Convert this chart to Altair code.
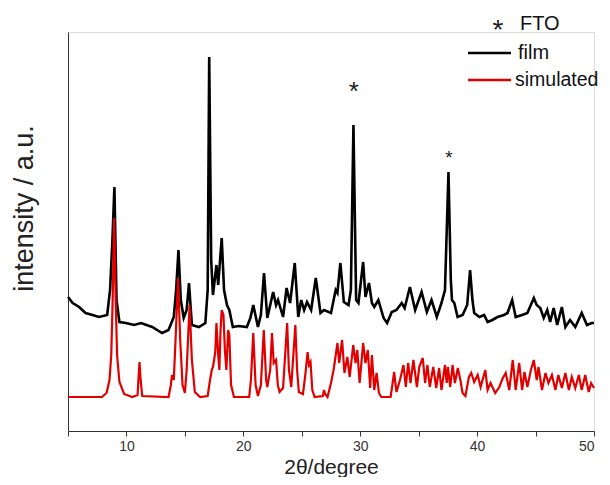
import altair as alt
import pandas as pd

# ---- data (2theta in degrees, intensity in a.u.) ----
film_2theta = [5.0, 5.4, 5.95, 6.5, 7.1, 7.65, 8.35, 8.6, 8.8, 8.97, 9.15, 9.4, 9.95, 10.65, 11.25,
               12.2, 13.05, 13.6, 14.05, 14.25, 14.45, 14.65, 14.9, 15.15, 15.35, 15.6, 16.2, 16.75,
               16.95, 17.08, 17.25, 17.4, 17.7, 17.85, 18.15, 18.35, 18.6, 18.8, 19.1, 19.6, 20.3,
               20.6, 20.85, 21.25, 21.5, 21.77, 22.05, 22.55, 22.8, 22.97, 23.4, 23.7, 24.0, 24.4,
               24.7, 24.95, 25.2, 25.45, 25.8, 26.2, 26.6, 26.9, 27.5, 27.9, 28.05, 28.3, 28.6, 29.0,
               29.2, 29.42, 29.65, 29.85, 30.25, 30.45, 30.75, 31.0, 31.2, 31.55, 32.0, 32.3, 32.7,
               33.1, 33.55, 33.8, 34.25, 34.7, 35.25, 35.7, 36.1, 36.55, 36.95, 37.25, 37.55, 37.75,
               37.85, 38.05, 38.33, 38.76, 39.15, 39.4, 39.6, 39.75, 40.2, 40.6, 40.9, 41.3, 41.75,
               42.3, 42.6, 43.0, 43.3, 43.85, 44.3, 44.85, 45.1, 45.4, 45.7, 46.0, 46.25, 46.55,
               46.85, 47.25, 47.55, 47.95, 48.4, 48.95, 49.4, 49.8, 50.0]
film_intensity = [134, 128, 124, 118, 116, 114, 116, 141, 191, 244, 131, 109, 108, 106, 108,
                  104, 98, 101, 114, 141, 181, 131, 113, 121, 148, 106, 104, 108,
                  141, 374, 171, 136, 166, 146, 193, 141, 126, 121, 104, 105, 104,
                  113, 126, 104, 116, 158, 113, 139, 126, 131, 114, 143, 128, 168,
                  114, 131, 121, 129, 121, 153, 118, 121, 118, 141, 138, 168, 129, 126,
                  141, 306, 131, 128, 169, 134, 148, 128, 124, 131, 113, 108, 119,
                  121, 128, 123, 144, 121, 139, 119, 131, 114, 128, 141, 259, 151,
                  131, 128, 114, 116, 126, 161, 131, 118, 114, 116, 109, 111, 114,
                  116, 118, 131, 114, 116, 118, 133, 126, 123, 113, 121, 109, 123,
                  106, 124, 104, 111, 104, 118, 106, 108, 108]

sim_2theta = [5.0, 7.9, 8.3, 8.55, 8.7, 8.82, 8.95, 9.08, 9.2, 9.4, 9.8, 10.5, 10.95, 11.05, 11.12,
              11.2, 11.35, 13.6, 13.8, 13.9, 14.05, 14.2, 14.42, 14.6, 14.8, 15.0, 15.15, 15.4, 15.6,
              15.85, 16.3, 16.95, 17.15, 17.3, 17.4, 17.5, 17.6, 17.7, 17.85, 17.95, 18.05, 18.15,
              18.3, 18.42, 18.55, 18.7, 18.8, 18.95, 19.2, 20.5, 20.65, 20.85, 21.05, 21.25, 21.5,
              21.75, 21.95, 22.05, 22.3, 22.45, 22.6, 22.8, 22.95, 23.1, 23.4, 23.55, 23.75, 23.9,
              24.1, 24.25, 24.45, 24.6, 24.75, 25.1, 25.3, 25.5, 25.62, 25.75, 25.9, 26.1, 26.8,
              26.9, 27.0, 27.2, 27.5, 27.75, 28.05, 28.2, 28.45, 28.65, 28.9, 29.1, 29.4, 29.6,
              29.75, 29.95, 30.25, 30.45, 30.65, 30.85, 31.0, 31.2, 31.4, 31.6, 31.8, 32.6, 32.75,
              32.9, 33.1, 33.4, 33.7, 33.9, 34.1, 34.3, 34.55, 34.85, 35.05, 35.35, 35.55, 35.75,
              35.95, 36.25, 36.5, 36.75, 36.95, 37.25, 37.4, 37.5, 37.7, 37.9, 38.1, 38.35, 38.6,
              38.75, 39.0, 39.3, 39.5, 39.75, 40.05, 40.3, 40.7, 40.9, 41.15, 41.55, 41.9, 42.2,
              42.45, 42.75, 43.05, 43.3, 43.6, 43.85, 44.05, 44.3, 44.6, 44.85, 45.1, 45.25, 45.55,
              45.85, 46.1, 46.4, 46.7, 46.95, 47.25, 47.55, 47.85, 48.1, 48.4, 48.7, 48.95, 49.25,
              49.55, 49.75, 50.0]
sim_intensity = [34, 34, 38, 51, 76, 131, 213, 131, 76, 49, 37, 34, 36, 56, 69,
                 53, 35, 34, 46, 56, 51, 91, 153, 91, 46, 38, 61, 126, 71,
                 39, 34, 35, 51, 61, 64, 71, 79, 108, 76, 61, 101, 121,
                 116, 81, 61, 101, 96, 46, 34, 34, 51, 98, 46, 35, 46,
                 101, 51, 44, 61, 98, 68, 71, 46, 39, 43, 71, 108, 61,
                 44, 71, 106, 61, 39, 37, 56, 79, 66, 69, 41, 34, 35,
                 41, 37, 34, 48, 63, 88, 68, 91, 58, 74, 54, 86, 68,
                 81, 48, 88, 68, 81, 43, 76, 41, 58, 38, 34, 34, 46,
                 59, 39, 51, 66, 44, 68, 48, 71, 44, 64, 73, 48, 66,
                 44, 64, 43, 63, 41, 66, 48, 64, 44, 66, 48, 63, 49,
                 38, 35, 54, 58, 49, 56, 44, 61, 41, 48, 38, 44, 53,
                 58, 41, 71, 41, 68, 41, 59, 44, 61, 71, 51, 64, 41,
                 58, 48, 56, 41, 56, 43, 58, 41, 54, 43, 56, 41, 56,
                 39, 48, 43]

fto_2theta = [29.45, 37.6]
fto_marker_intensity = [346, 279]
x_tick_values = [5, 10, 15, 20, 25, 30, 35, 40, 45, 50]
legend_labels = ["FTO", "film", "simulated"]

FONT = "Arial"

film = pd.DataFrame({"two_theta": film_2theta, "intensity": film_intensity})
sim = pd.DataFrame({"two_theta": sim_2theta, "intensity": sim_intensity})
fto = pd.DataFrame({"two_theta": fto_2theta, "intensity": fto_marker_intensity, "label": ["*", "*"]})
one = pd.DataFrame({"k": [0]})

x_enc = alt.X(
    "two_theta:Q",
    scale=alt.Scale(domain=[5, 50], nice=False, zero=False),
    axis=alt.Axis(
        values=x_tick_values,
        labelExpr="datum.value % 10 == 0 ? datum.label : ''",
        title="2θ/degree",
        grid=False,
        tickSize=5,
        labelFontSize=14,
        labelPadding=3,
        labelFont=FONT,
        labelColor="#333333",
        titleFont=FONT,
        titleFontSize=21,
        titleFontWeight="normal",
        titleColor="#222222",
        titleBaseline="middle",
        titleY=36,
        domainColor="#333333",
        tickColor="#333333",
    ),
)
y_enc = alt.Y(
    "intensity:Q",
    scale=alt.Scale(domain=[0, 399], nice=False, zero=False),
    axis=alt.Axis(
        ticks=False,
        labels=False,
        grid=False,
        title="intensity / a.u.",
        titleFont=FONT,
        titleFontSize=27,
        titleFontWeight="normal",
        titleColor="#222222",
        titleAngle=-90,
        titleAlign="center",
        titleBaseline="middle",
        titleX=-44,
        titleY=176,
        domainColor="#333333",
    ),
)

film_line = alt.Chart(film).mark_line(color="#000000", strokeWidth=2.6).encode(x=x_enc, y=y_enc)
sim_line = alt.Chart(sim).mark_line(color="#e00000", strokeWidth=2.2).encode(x=x_enc, y=y_enc)

fto_big = alt.Chart(fto).transform_filter("datum.two_theta < 33").mark_text(
    font=FONT, fontSize=26, baseline="alphabetic", dy=15, color="#222222"
).encode(x=x_enc, y=y_enc, text="label:N")
fto_small = alt.Chart(fto).transform_filter("datum.two_theta > 33").mark_text(
    font=FONT, fontSize=19, baseline="alphabetic", dy=12, color="#222222"
).encode(x=x_enc, y=y_enc, text="label:N")

# legend (drawn in pixel space of the plot area)
leg_star = alt.Chart(one).mark_text(font=FONT, fontSize=28, baseline="alphabetic", color="#222222").encode(
    x=alt.value(430), y=alt.value(7), text=alt.value("*"))
leg_fto = alt.Chart(one).mark_text(font=FONT, fontSize=20, align="left", baseline="middle", color="#111111").encode(
    x=alt.value(452), y=alt.value(-8), text=alt.value(legend_labels[0]))
leg_film_line = alt.Chart(one).mark_rule(color="#000000", strokeWidth=2.4).encode(
    x=alt.value(400), x2=alt.value(443), y=alt.value(21))
leg_film = alt.Chart(one).mark_text(font=FONT, fontSize=20, align="left", baseline="middle", color="#111111").encode(
    x=alt.value(450), y=alt.value(21), text=alt.value(legend_labels[1]))
leg_sim_line = alt.Chart(one).mark_rule(color="#e00000", strokeWidth=2.4).encode(
    x=alt.value(400), x2=alt.value(443), y=alt.value(48))
leg_sim = alt.Chart(one).mark_text(font=FONT, fontSize=19.5, align="left", baseline="middle", color="#111111").encode(
    x=alt.value(447), y=alt.value(48), text=alt.value(legend_labels[2]))

chart = alt.layer(
    film_line, sim_line, fto_big, fto_small,
    leg_star, leg_fto, leg_film_line, leg_film, leg_sim_line, leg_sim,
).properties(
    width=526,
    height=399,
    autosize=alt.AutoSizeParams(type="none"),
    padding={"left": 60, "top": 24, "right": 8, "bottom": 46},
).configure_view(stroke=None).configure(background="white")

chart.save("out.html", embed_options={"renderer": "svg", "actions": False})
